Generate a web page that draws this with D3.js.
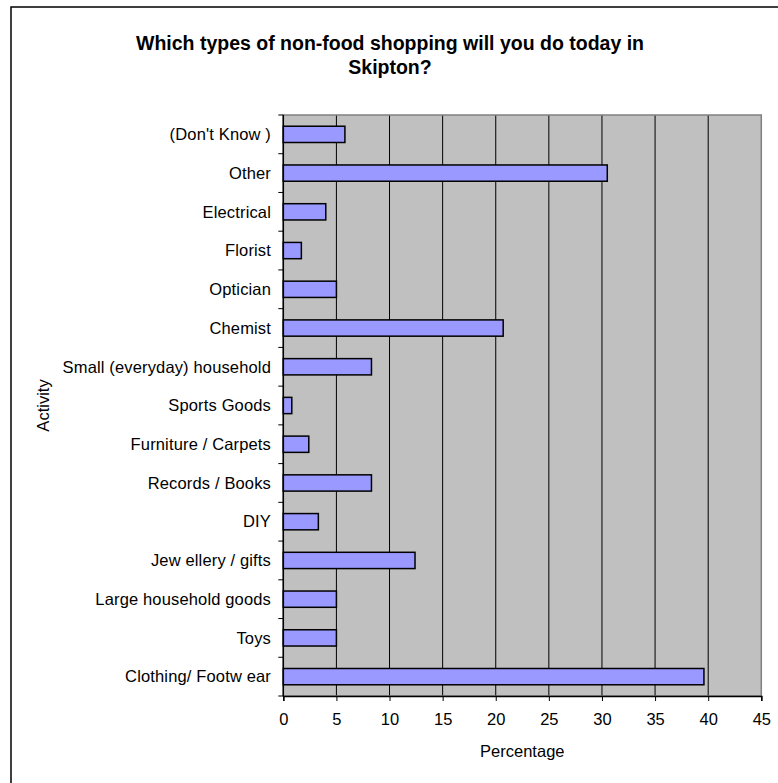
<!DOCTYPE html>
<html>
<head>
<meta charset="utf-8">
<script src="https://cdn.jsdelivr.net/npm/d3@7"></script>
<style>
  html, body { margin: 0; padding: 0; background: #fff; }
  svg { display: block; font-family: "Liberation Sans", Arial, sans-serif; }
</style>
</head>
<body>
<script>
// Data (top to bottom as shown)
const categories = [
  "(Don't Know )", "Other", "Electrical", "Florist", "Optician", "Chemist",
  "Small (everyday) household", "Sports Goods", "Furniture / Carpets",
  "Records / Books", "DIY", "Jew ellery / gifts", "Large household goods",
  "Toys", "Clothing/ Footw ear"
];
const values = [5.8, 30.5, 4.0, 1.7, 5.0, 20.7, 8.3, 0.8, 2.4, 8.3, 3.3, 12.4, 5.0, 5.0, 39.6];
const xTicks = [0, 5, 10, 15, 20, 25, 30, 35, 40, 45];
const titleLines = ["Which types of non-food shopping will you do today in", "Skipton?"];
const xTitle = "Percentage";
const yTitle = "Activity";

const W = 778, H = 783;
const plot = { left: 283.3, right: 761.3, top: 115, bottom: 696 };

const svg = d3.select("body").append("svg").attr("width", W).attr("height", H);

// Outer frame
svg.append("rect").attr("x", 11).attr("y", 7).attr("width", W + 20).attr("height", H + 20)
  .attr("fill", "#fff").attr("stroke", "#000").attr("stroke-width", 1.5);

const x = d3.scaleLinear().domain([0, 45]).range([plot.left, plot.right]);
const yBand = d3.scaleBand().domain(categories).range([plot.top, plot.bottom]).padding(0);
const yBar = d3.scaleBand().domain(categories).range([plot.top, plot.bottom])
  .paddingInner(0.58).paddingOuter(0.29);

// Plot background
svg.append("rect").attr("x", plot.left).attr("y", plot.top)
  .attr("width", plot.right - plot.left).attr("height", plot.bottom - plot.top)
  .attr("fill", "#C0C0C0");

// Gridlines
svg.append("g").selectAll("line").data(xTicks.slice(1, -1)).join("line")
  .attr("x1", d => x(d)).attr("x2", d => x(d))
  .attr("y1", plot.top).attr("y2", plot.bottom)
  .attr("stroke", "#000").attr("stroke-width", 1);

// Plot border (gray)
svg.append("rect").attr("x", plot.left).attr("y", plot.top)
  .attr("width", plot.right - plot.left).attr("height", plot.bottom - plot.top)
  .attr("fill", "none").attr("stroke", "#808080").attr("stroke-width", 1.5);

// Bars
svg.append("g").selectAll("rect").data(categories).join("rect")
  .attr("x", x(0))
  .attr("y", d => yBar(d))
  .attr("width", (d, i) => x(values[i]) - x(0))
  .attr("height", yBar.bandwidth())
  .attr("fill", "#9999FF").attr("stroke", "#000").attr("stroke-width", 1.5);

// X axis
const xAxis = d3.axisBottom(x).tickValues(xTicks).tickSize(5).tickPadding(12);
const gx = svg.append("g").attr("transform", `translate(0,${plot.bottom})`).call(xAxis);
gx.select(".domain").attr("stroke", "#000").attr("stroke-width", 1.5);
gx.selectAll(".tick line").attr("stroke", "#000");
gx.selectAll("text").attr("font-size", 16.5).attr("fill", "#000")
  .attr("font-family", "'Liberation Sans', Arial, sans-serif");

// Y axis line and ticks at band boundaries
const gy = svg.append("g");
gy.append("line").attr("x1", plot.left).attr("x2", plot.left)
  .attr("y1", plot.top).attr("y2", plot.bottom).attr("stroke", "#000").attr("stroke-width", 1.5);
const bounds = categories.map(c => yBand(c)).concat([plot.bottom]);
gy.selectAll("line.tk").data(bounds).join("line").attr("class", "tk")
  .attr("x1", plot.left - 5).attr("x2", plot.left)
  .attr("y1", d => d).attr("y2", d => d).attr("stroke", "#000").attr("stroke-width", 1);
gy.selectAll("text").data(categories).join("text")
  .attr("x", 271).attr("y", d => yBand(d) + yBand.bandwidth() / 2)
  .attr("dy", "0.35em").attr("text-anchor", "end")
  .attr("font-size", 16.5).attr("letter-spacing", "0.15px").attr("fill", "#000").text(d => d);

// Titles
svg.append("g").selectAll("text").data(titleLines).join("text")
  .attr("x", 390).attr("y", (d, i) => 50 + i * 24)
  .attr("text-anchor", "middle").attr("font-size", 19.5).attr("font-weight", "bold")
  .attr("fill", "#000").text(d => d);

svg.append("text").attr("x", (plot.left + plot.right) / 2).attr("y", 757)
  .attr("text-anchor", "middle").attr("font-size", 16.5).attr("fill", "#000").text(xTitle);

svg.append("text").attr("transform", `translate(49,${(plot.top + plot.bottom) / 2}) rotate(-90)`)
  .attr("text-anchor", "middle").attr("font-size", 16.5).attr("fill", "#000").text(yTitle);
</script>
</body>
</html>
